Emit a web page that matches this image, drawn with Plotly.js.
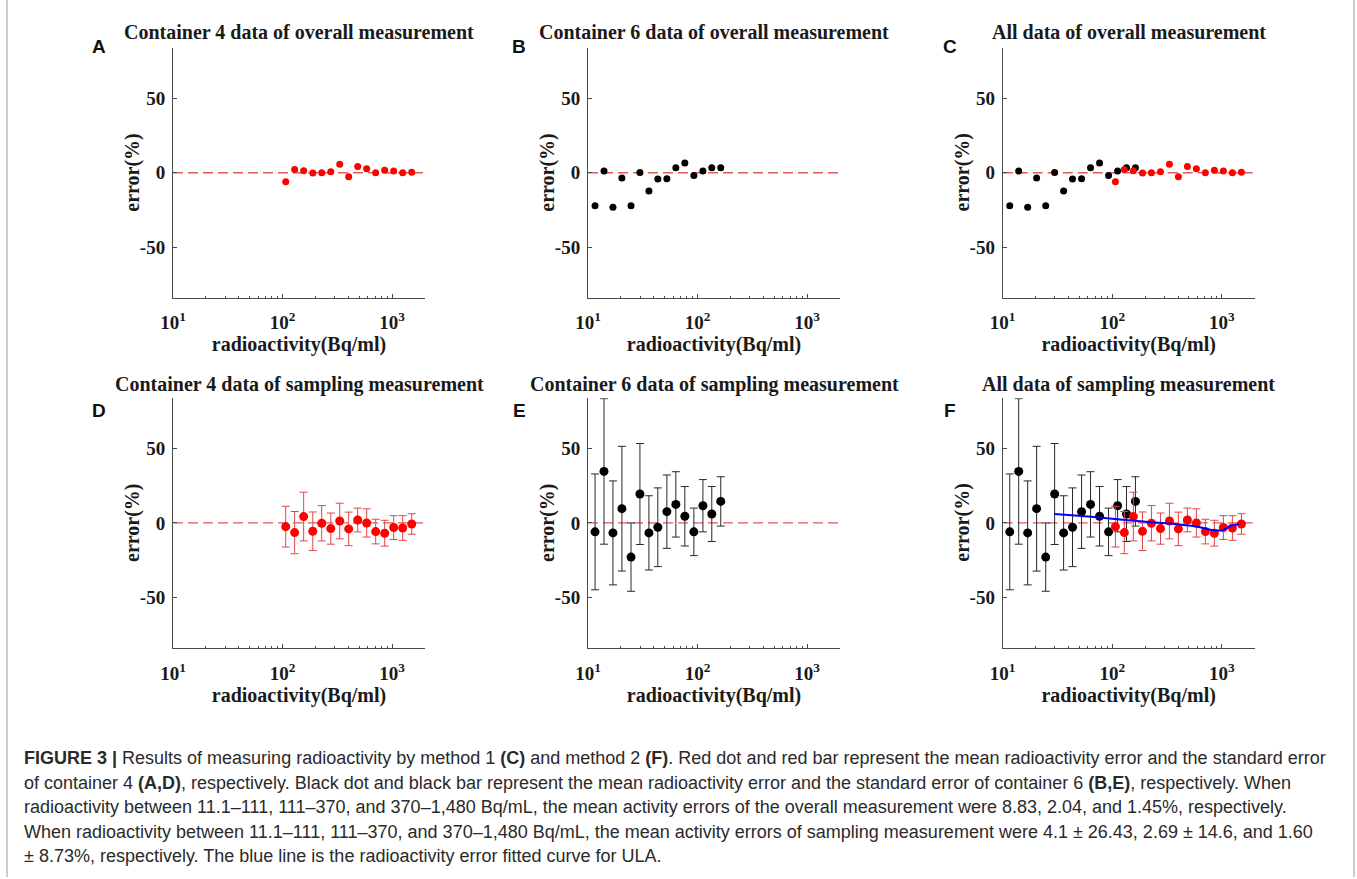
<!DOCTYPE html>
<html>
<head>
<meta charset="utf-8">
<script src="https://cdn.plot.ly/plotly-3.0.1.min.js"></script>
<style>
  html, body { margin: 0; padding: 0; background: #fff; }
  #chart { width: 1357px; height: 879px; }
</style>
</head>
<body>
<div id="chart"></div>
<script>
// ---- Data ----
// Container 4 (red) activities, Bq/ml
const xC4 = [107, 129, 156, 189, 228, 276, 333, 402, 486, 587, 709, 857, 1035, 1251, 1512];
// Container 4 overall-measurement error (%)
const yC4Overall = [-6.0, 2.2, 1.3, -0.2, 0.0, 0.7, 5.8, -2.7, 4.2, 2.7, 0.0, 1.6, 1.1, 0.0, 0.4];
// Container 4 sampling-measurement error (%) and its standard error
const yC4Sampling = [-2.5, -6.5, 4.3, -5.6, -0.2, -3.8, 1.3, -4.0, 2.0, 0.0, -5.8, -6.9, -3.1, -3.4, -0.7];
const eC4Sampling = [13.7, 14.2, 16.4, 13.0, 11.9, 10.5, 12.0, 11.3, 8.0, 9.5, 8.3, 8.7, 8.0, 8.3, 6.9];

// Container 6 (black) activities, Bq/ml
const xC6 = [11.6, 14.0, 16.9, 20.4, 24.7, 29.8, 36.0, 43.4, 52.5, 63.4, 76.6, 92.6, 112, 135, 163];
const yC6Overall = [-22.3, 1.1, -23.2, -3.6, -22.3, 0.2, -12.3, -4.2, -4.0, 3.3, 6.5, -1.8, 1.1, 3.3, 3.3];
const yC6Sampling = [-6.0, 34.7, -6.7, 9.6, -23.0, 19.5, -6.7, -2.9, 7.6, 12.5, 4.5, -6.0, 11.6, 6.0, 14.5];
const eC6Sampling = [39, 49, 35, 42, 23, 34, 25, 26.5, 24.7, 22, 20, 16, 17.6, 18.5, 16.6];

// Fitted curve for ULA (blue)
const xFit = [29.6, 52.5, 100, 192, 414, 631, 832, 1014, 1183, 1438];
const yFit = [6.0, 4.7, 2.9, 0.9, -1.1, -2.9, -4.9, -4.9, -2.2, -0.7];

// Reference line and axes ticks
const xRef = [10, 2000];
const yRef = [0, 0];
const xTickVals = [10, 100, 1000];
const xTickText = ['10<sup>1</sup>', '10<sup>2</sup>', '10<sup>3</sup>'];
const xMinorVals = [20, 30, 40, 50, 60, 70, 80, 90, 200, 300, 400, 500, 600, 700, 800, 900];
const yTickVals = [-50, 0, 50];
const yTickText = ['-50', '0', '50'];

const panelTitles = [
  'Container 4 data of overall measurement',
  'Container 6 data of overall measurement',
  'All data of overall measurement',
  'Container 4 data of sampling measurement',
  'Container 6 data of sampling measurement',
  'All data of sampling measurement'
];
const panelLetters = ['A', 'B', 'C', 'D', 'E', 'F'];
const xLabel = 'radioactivity(Bq/ml)';
const yLabel = 'error(%)';

const captionLines = [
  '<b>FIGURE 3 |</b> Results of measuring radioactivity by method 1 <b>(C)</b> and method 2 <b>(F)</b>. Red dot and red bar represent the mean radioactivity error and the standard error',
  'of container 4 <b>(A,D)</b>, respectively. Black dot and black bar represent the mean radioactivity error and the standard error of container 6 <b>(B,E)</b>, respectively. When',
  'radioactivity between 11.1–111, 111–370, and 370–1,480 Bq/mL, the mean activity errors of the overall measurement were 8.83, 2.04, and 1.45%, respectively.',
  'When radioactivity between 11.1–111, 111–370, and 370–1,480 Bq/mL, the mean activity errors of sampling measurement were 4.1 ± 26.43, 2.69 ± 14.6, and 1.60',
  '± 8.73%, respectively. The blue line is the radioactivity error fitted curve for ULA.'
];

// ---- Layout geometry (pixels) ----
const W = 1357, H = 879;
const colLeft = [173, 588, 1002.7];
const axW = 252;
const rowTop = [48, 398.2];
const axH = 249.5;

const serif = 'Liberation Serif, Times New Roman, serif';
const sans = 'Liberation Sans, Arial, Helvetica, sans-serif';
const axisColor = '#4a4a4a';
const textColor = '#1a1a1a';

const layout = {
  width: W, height: H,
  margin: {l: 0, r: 0, t: 0, b: 0},
  paper_bgcolor: '#fff', plot_bgcolor: 'rgba(0,0,0,0)',
  showlegend: false,
  annotations: [],
  shapes: []
};

function xaxisDef(i) {
  const c = i % 3;
  return {
    type: 'log',
    range: [1, Math.log10(2000)],
    domain: [colLeft[c] / W, (colLeft[c] + axW) / W],
    anchor: 'y' + (i === 0 ? '' : i + 1),
    showline: true, linecolor: axisColor, linewidth: 1,
    ticks: 'inside', ticklen: 4, tickcolor: axisColor, tickwidth: 1,
    tickmode: 'array', tickvals: xTickVals, ticktext: xTickText,
    tickfont: {family: serif, size: 19, color: textColor, weight: 'bold'},
    ticklabelstandoff: 8,
    minor: {tickmode: 'array', tickvals: xMinorVals, ticks: 'inside', ticklen: 2, tickcolor: axisColor, tickwidth: 1, showgrid: false},
    showgrid: false, zeroline: false, fixedrange: true,
    title: {text: xLabel, font: {family: serif, size: 20, color: textColor, weight: 'bold'}, standoff: 2}
  };
}
function yaxisDef(i) {
  const r = Math.floor(i / 3);
  return {
    range: [-84, 84],
    domain: [1 - (rowTop[r] + axH) / H, 1 - rowTop[r] / H],
    anchor: 'x' + (i === 0 ? '' : i + 1),
    showline: true, linecolor: axisColor, linewidth: 1,
    ticks: 'inside', ticklen: 4, tickcolor: axisColor, tickwidth: 1,
    tickmode: 'array', tickvals: yTickVals, ticktext: yTickText,
    tickfont: {family: serif, size: 19, color: textColor, weight: 'bold'},
    ticklabelstandoff: 3,
    showgrid: false, zeroline: false, fixedrange: true
  };
}

for (let i = 0; i < 6; i++) {
  const s = i === 0 ? '' : String(i + 1);
  layout['xaxis' + s] = xaxisDef(i);
  layout['yaxis' + s] = yaxisDef(i);
  const c = i % 3, r = Math.floor(i / 3);
  // panel title
  layout.annotations.push({
    text: panelTitles[i], showarrow: false,
    xref: 'paper', yref: 'paper',
    x: (colLeft[c] + axW / 2) / W, y: 1 - (r === 0 ? 32 : 384) / H,
    xanchor: 'center', yanchor: 'middle',
    font: {family: serif, size: 20, color: textColor, weight: 'bold'}
  });
  // y-axis title (rotated)
  layout.annotations.push({
    text: yLabel, showarrow: false, textangle: -90,
    xref: 'paper', yref: 'paper',
    x: (colLeft[c] - 40) / W, y: 1 - (rowTop[r] + axH / 2) / H,
    xanchor: 'center', yanchor: 'middle',
    font: {family: serif, size: 20, color: textColor, weight: 'bold'}
  });
  // panel letter
  const lx = [99, 519, 950][c], ly = r === 0 ? 47 : 410;
  layout.annotations.push({
    text: '<b>' + panelLetters[i] + '</b>', showarrow: false,
    xref: 'paper', yref: 'paper', x: lx / W, y: 1 - ly / H,
    xanchor: 'center', yanchor: 'middle',
    font: {family: sans, size: 19, color: '#111'}
  });
}

// caption
const capY = [758, 782.5, 807, 831.5, 856];
captionLines.forEach((t, k) => {
  layout.annotations.push({
    text: t, showarrow: false, xref: 'paper', yref: 'paper',
    x: 22 / W, y: 1 - capY[k] / H, xanchor: 'left', yanchor: 'middle', align: 'left',
    font: {family: sans, size: 18, color: '#2a2a2a'}
  });
});
// frame lines
layout.shapes.push({type: 'line', xref: 'paper', yref: 'paper', x0: 7 / W, x1: 7 / W, y0: 1 - 877 / H, y1: 1, line: {color: '#999', width: 1}});
layout.shapes.push({type: 'line', xref: 'paper', yref: 'paper', x0: 1354 / W, x1: 1354 / W, y0: 1 - 877 / H, y1: 1, line: {color: '#999', width: 1}});

// ---- Traces ----
const traces = [];
const red = 'rgb(255,0,0)';
const redBar = 'rgb(225,70,70)';
const black = 'rgb(0,0,0)';
const blackBar = 'rgb(40,40,40)';

function refLine(i) {
  const s = i === 0 ? '' : String(i + 1);
  return {x: xRef, y: yRef, xaxis: 'x' + s, yaxis: 'y' + s, mode: 'lines', hoverinfo: 'skip',
    line: {color: 'rgb(225,90,90)', width: 1.3, dash: '10px,5px'}};
}
function pts(i, x, y, color, size, err, errColor) {
  const s = i === 0 ? '' : String(i + 1);
  const t = {x: x, y: y, xaxis: 'x' + s, yaxis: 'y' + s, mode: 'markers', type: 'scatter',
    marker: {color: color, size: size, line: {width: 0}}};
  if (err) t.error_y = {type: 'data', array: err, visible: true, color: errColor, thickness: 1, width: 4};
  return t;
}

for (let i = 0; i < 6; i++) traces.push(refLine(i));
// A
traces.push(pts(0, xC4, yC4Overall, red, 7));
// B
traces.push(pts(1, xC6, yC6Overall, black, 7));
// C
traces.push(pts(2, xC6, yC6Overall, black, 7));
traces.push(pts(2, xC4, yC4Overall, red, 7));
// D
traces.push(pts(3, xC4, yC4Sampling, red, 9, eC4Sampling, redBar));
// E
traces.push(pts(4, xC6, yC6Sampling, black, 9, eC6Sampling, blackBar));
// F
traces.push(pts(5, xC6, yC6Sampling, black, 9, eC6Sampling, blackBar));
traces.push(pts(5, xC4, yC4Sampling, red, 9, eC4Sampling, redBar));
traces.push({x: xFit, y: yFit, xaxis: 'x6', yaxis: 'y6', mode: 'lines', type: 'scatter',
  line: {color: 'rgb(0,0,255)', width: 2, shape: 'spline', smoothing: 0.8}});

Plotly.newPlot('chart', traces, layout, {staticPlot: true, displayModeBar: false});
</script>
</body>
</html>
